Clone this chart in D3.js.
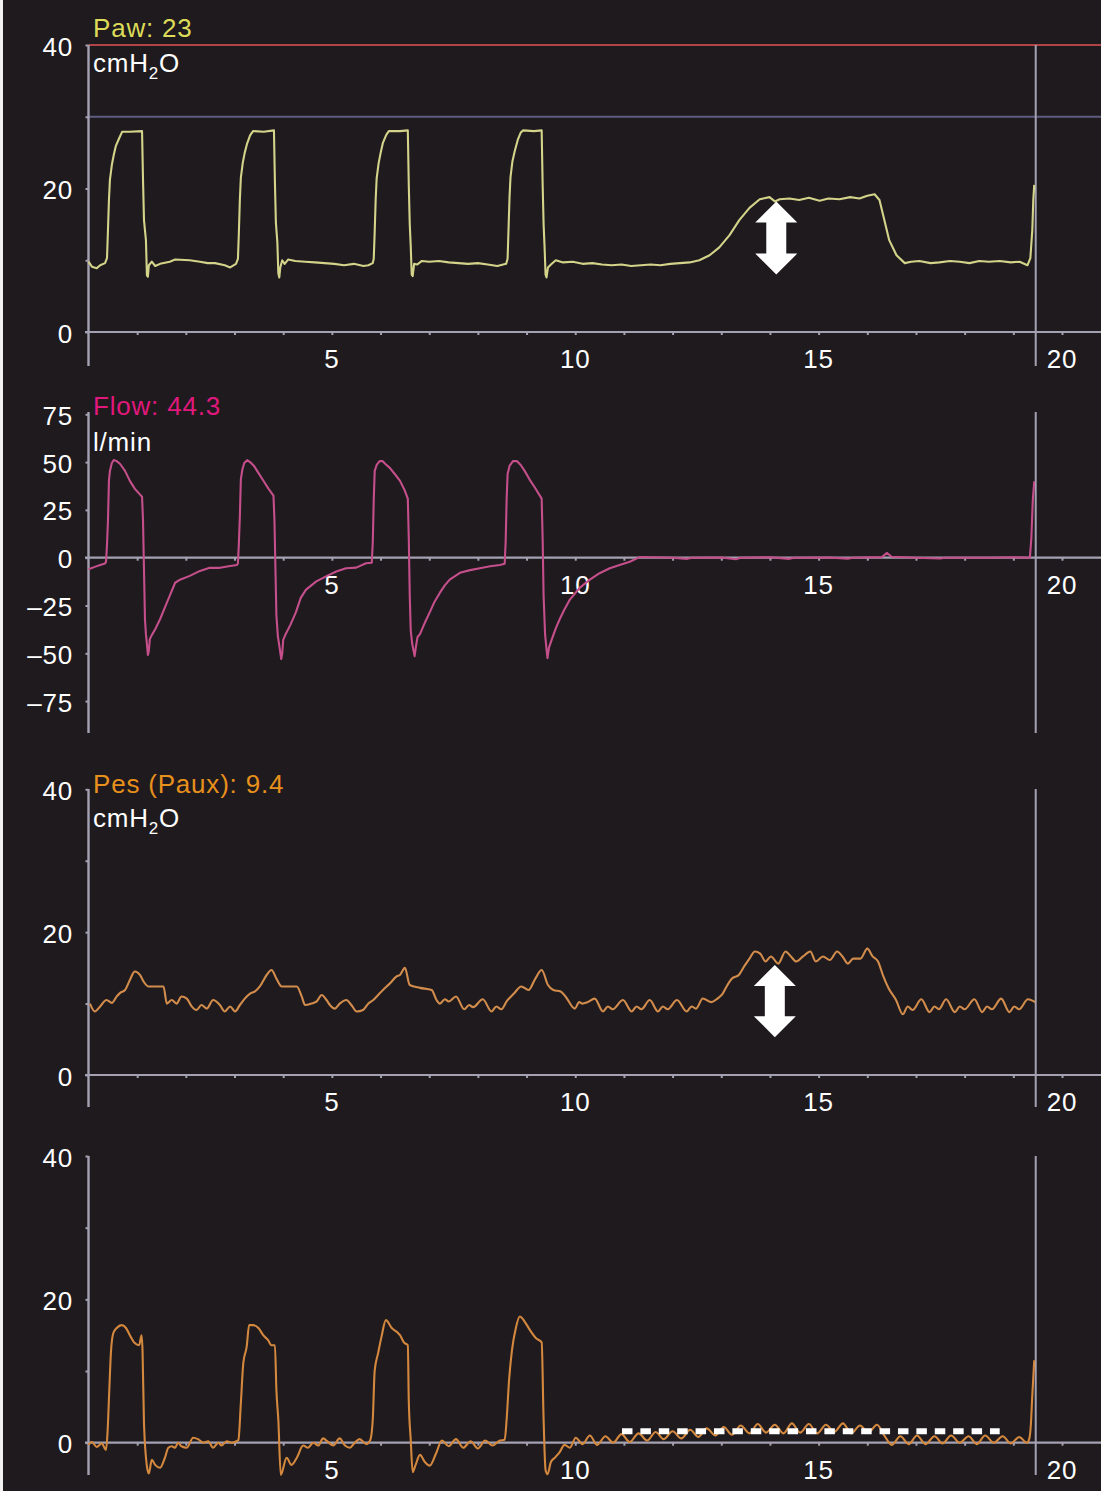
<!DOCTYPE html>
<html><head><meta charset="utf-8">
<script src="https://cdn.jsdelivr.net/npm/d3@7"></script>
<style>html,body{margin:0;padding:0;background:#1e1a1e;} svg{display:block;font-family:"Liberation Sans",Arial,Helvetica,sans-serif;}</style>
</head><body><svg id="c" width="1101" height="1491"></svg>
<script>
// ---------- DATA ----------
const timeTicks = [5, 10, 15, 20];
const cursorT = 19.46;
const pawAlarmHigh = 40;
const pawLimit = 30;
const pawTicks = [0, 20, 40];
const flowTicks = [-75, -50, -25, 0, 25, 50, 75];
const pesTicks = [0, 20, 40];

const pawData = [
[0.00,9.8],[0.07,9.1],[0.17,8.9],[0.24,9.3],[0.34,9.6],[0.38,10.3],[0.40,14.2],[0.42,18.4],[0.44,21.2],[0.48,23.3],[0.52,24.7],[0.56,25.9],[0.63,27.0],[0.69,27.9],[0.85,27.9],[1.10,28.0],[1.12,21.2],[1.14,15.6],[1.18,12.8],[1.20,7.9],[1.22,7.7],[1.24,9.3],[1.30,9.8],[1.37,9.2],[1.47,9.5],[1.67,9.8],[1.78,10.1],[2.08,10.0],[2.29,9.8],[2.45,9.6],[2.60,9.6],[2.80,9.3],[2.91,9.0],[3.03,9.5],
[3.07,10.2],[3.09,14.0],[3.11,18.5],[3.13,21.5],[3.17,23.6],[3.21,25.0],[3.26,26.3],[3.32,27.4],[3.38,28.0],[3.60,27.9],[3.81,28.1],[3.83,20.8],[3.85,15.2],[3.88,12.5],[3.90,8.2],[3.92,7.6],[3.94,9.0],[3.98,10.0],[4.03,9.5],[4.10,10.1],[4.25,9.9],[4.45,9.8],[4.65,9.7],[4.85,9.6],[5.05,9.5],[5.25,9.3],[5.45,9.5],[5.65,9.2],[5.75,9.3],[5.84,9.6],
[5.86,10.2],[5.88,14.0],[5.90,18.5],[5.92,21.4],[5.96,23.5],[6.00,24.9],[6.05,26.4],[6.12,27.5],[6.17,28.0],[6.40,28.0],[6.56,28.1],[6.58,20.5],[6.60,15.0],[6.62,12.0],[6.64,8.0],[6.66,7.8],[6.69,9.5],[6.75,9.4],[6.85,9.9],[7.00,9.8],[7.20,9.9],[7.40,9.7],[7.60,9.6],[7.80,9.5],[8.00,9.6],[8.20,9.4],[8.40,9.2],[8.58,9.5],
[8.61,10.2],[8.63,14.5],[8.65,18.8],[8.67,21.6],[8.71,23.8],[8.76,25.3],[8.82,26.8],[8.88,27.8],[8.93,28.1],[9.15,28.0],[9.31,28.1],[9.33,20.6],[9.35,15.0],[9.37,11.8],[9.39,8.0],[9.41,7.6],[9.44,9.0],[9.50,9.4],[9.60,10.0],[9.75,9.7],[9.95,9.8],[10.15,9.5],[10.35,9.6],[10.55,9.4],[10.75,9.3],[10.95,9.4],[11.15,9.2],[11.35,9.3],[11.55,9.4],[11.75,9.3],[11.95,9.5],[12.15,9.6],[12.35,9.7],[12.55,10.0],[12.76,10.7],[12.96,11.8],[13.17,13.5],[13.37,15.6],[13.58,17.3],[13.79,18.5],[13.99,18.8],[14.10,18.2],[14.20,18.5],[14.40,18.6],[14.60,18.4],[14.80,18.7],[15.02,18.3],[15.20,18.6],[15.43,18.5],[15.65,18.8],[15.84,18.6],[16.00,19.0],[16.15,19.2],[16.25,18.4],[16.35,15.6],[16.45,12.8],[16.60,10.7],[16.77,9.6],[16.90,9.8],[17.07,9.9],[17.30,9.6],[17.48,9.7],[17.70,9.9],[17.90,9.8],[18.10,9.6],[18.30,9.9],[18.50,9.8],[18.72,9.9],[18.95,9.7],[19.13,9.8],[19.29,9.3],[19.35,10.3],[19.39,14.2],[19.41,18.4],[19.43,20.5]
];

const flowData = [
[0.00,-6.0],[0.13,-4.8],[0.24,-3.8],[0.34,-3.0],[0.36,-2.2],[0.38,6.6],[0.40,19.5],[0.42,40.2],[0.44,45.4],[0.48,49.5],[0.52,51.1],[0.58,50.5],[0.65,49.0],[0.75,45.4],[0.85,40.2],[0.95,36.1],[1.06,33.0],[1.10,31.9],[1.12,19.5],[1.14,-6.4],[1.16,-32.2],[1.18,-40.0],[1.20,-45.1],[1.22,-50.9],[1.24,-48.8],[1.26,-42.6],[1.30,-40.5],[1.37,-37.4],[1.47,-32.2],[1.57,-26.0],[1.67,-19.8],[1.78,-13.1],[1.88,-11.5],[2.08,-9.5],[2.29,-6.9],[2.49,-5.3],[2.70,-5.3],[2.91,-4.3],[3.05,-3.8],
[3.07,-3.0],[3.09,8.0],[3.11,22.0],[3.13,41.0],[3.16,46.0],[3.20,49.5],[3.26,51.0],[3.32,50.0],[3.40,48.0],[3.50,44.0],[3.60,40.0],[3.70,36.0],[3.80,32.5],[3.82,20.0],[3.84,-5.0],[3.86,-30.0],[3.89,-41.0],[3.92,-46.0],[3.96,-53.0],[3.98,-50.0],[4.00,-43.0],[4.05,-40.0],[4.15,-35.0],[4.26,-28.6],[4.36,-21.0],[4.47,-16.7],[4.68,-12.4],[4.88,-9.8],[5.09,-7.2],[5.29,-5.5],[5.50,-5.2],[5.70,-2.9],[5.82,-2.6],
[5.84,8.0],[5.86,30.0],[5.88,45.4],[5.92,48.5],[5.98,50.5],[6.04,50.6],[6.10,49.0],[6.19,47.0],[6.30,43.5],[6.40,40.2],[6.50,35.0],[6.56,30.9],[6.58,10.0],[6.60,-20.0],[6.62,-38.0],[6.65,-45.0],[6.70,-51.5],[6.73,-46.0],[6.76,-41.5],[6.81,-40.0],[6.91,-34.0],[7.01,-28.6],[7.11,-23.0],[7.22,-18.3],[7.32,-14.5],[7.42,-11.5],[7.63,-7.9],[7.84,-6.5],[8.04,-5.5],[8.25,-4.5],[8.45,-3.8],[8.55,-3.2],
[8.57,8.0],[8.59,30.0],[8.61,43.8],[8.65,48.0],[8.72,50.5],[8.80,50.6],[8.88,48.5],[8.96,45.4],[9.06,41.0],[9.17,36.7],[9.31,30.9],[9.33,10.0],[9.35,-20.0],[9.38,-40.0],[9.41,-48.0],[9.43,-52.5],[9.46,-47.0],[9.52,-42.6],[9.60,-37.0],[9.68,-32.2],[9.78,-27.0],[9.89,-21.9],[10.09,-15.8],[10.30,-11.5],[10.50,-8.1],[10.71,-5.5],[10.91,-3.8],[11.12,-2.1],[11.32,0.3],
[11.60,0.2],[12.00,0.0],[12.30,-0.6],[12.40,0.0],[13.00,0.1],[13.30,-0.8],[13.40,0.0],[14.00,0.2],[14.40,-0.6],[14.50,0.0],[15.20,0.1],[15.60,-0.5],[15.70,0.0],[16.30,0.3],[16.40,2.5],[16.50,0.5],[17.00,0.0],[17.50,-0.4],[17.60,0.0],[18.50,0.0],[19.00,0.2],[19.34,0.0],[19.37,10.0],[19.40,30.0],[19.43,40.0]
];

const pesData = [
[0.03,10.0],[0.13,8.9],[0.24,9.6],[0.37,10.5],[0.48,10.1],[0.58,11.0],[0.65,11.5],[0.75,11.9],[0.85,13.3],[0.95,14.5],[1.06,14.0],[1.13,13.1],[1.23,12.4],[1.40,12.4],[1.54,12.4],[1.61,10.0],[1.71,10.5],[1.81,10.0],[1.91,11.0],[2.02,10.7],[2.12,9.6],[2.22,9.1],[2.32,9.8],[2.43,9.3],[2.56,10.5],[2.70,9.8],[2.80,8.9],[2.91,9.6],[3.01,8.9],[3.11,9.8],[3.21,10.7],[3.32,11.4],[3.42,11.7],[3.52,12.4],[3.66,14.0],[3.76,14.7],[3.86,13.5],[3.97,12.4],[4.14,12.4],[4.28,12.4],[4.38,11.0],[4.45,9.8],[4.58,10.0],[4.69,10.3],[4.79,11.2],[4.89,10.5],[4.96,9.8],[5.06,9.3],[5.16,10.0],[5.30,10.5],[5.40,9.8],[5.51,8.9],[5.64,9.1],[5.75,10.0],[5.85,10.5],[5.95,11.2],[6.05,11.9],[6.19,12.8],[6.33,13.8],[6.40,14.0],[6.50,15.0],[6.60,12.6],[6.81,12.2],[7.05,11.9],[7.15,10.5],[7.22,10.0],[7.32,10.6],[7.40,10.3],[7.55,11.0],[7.72,9.2],[7.82,9.8],[7.90,9.5],[8.10,10.6],[8.28,8.9],[8.38,9.6],[8.48,9.2],[8.60,10.4],
[8.74,11.4],[8.89,12.4],[9.04,11.9],[9.18,13.5],[9.31,14.7],[9.44,12.6],[9.55,11.9],[9.70,11.7],[9.80,11.0],[9.99,9.3],[10.08,10.2],[10.15,10.0],[10.25,10.2],[10.40,10.7],[10.57,8.9],[10.67,9.6],[10.77,9.2],[10.98,10.5],[11.16,8.9],[11.26,9.6],[11.36,9.2],[11.53,10.5],[11.70,8.9],[11.80,9.6],[11.90,9.2],[12.09,10.5],[12.29,8.9],[12.39,9.6],[12.48,9.3],[12.62,10.7],[12.80,10.2],[12.92,10.7],[13.03,11.4],[13.11,12.4],[13.22,13.5],[13.36,14.0],[13.47,15.2],[13.58,16.3],[13.69,17.3],[13.80,17.0],[13.91,15.9],[14.02,16.6],[14.17,15.6],[14.32,17.3],[14.43,16.6],[14.54,15.9],[14.68,16.6],[14.83,17.3],[14.94,15.9],[15.09,16.6],[15.23,16.1],[15.38,17.3],[15.49,16.6],[15.60,15.6],[15.71,16.3],[15.86,16.3],[16.00,17.7],[16.11,16.6],[16.22,15.9],[16.33,13.8],[16.44,12.1],[16.59,10.5],[16.73,8.5],[16.83,9.6],[16.93,9.1],[17.11,10.6],[17.28,8.8],[17.38,9.6],[17.47,9.2],[17.62,10.6],[17.80,8.8],[17.90,9.6],[18.00,9.2],[18.20,10.6],[18.36,8.8],[18.46,9.6],[18.56,9.2],[18.75,10.7],[18.92,8.8],[19.02,9.6],[19.12,9.2],[19.30,10.6],[19.45,10.2]
];

const pauxData = [
[0.00,-0.3],[0.07,0.1],[0.17,-0.6],[0.27,-0.1],[0.36,-1.0],[0.39,1.3],[0.43,7.8],[0.46,12.5],[0.51,15.3],[0.58,16.0],[0.68,16.4],[0.77,16.0],[0.85,15.0],[0.95,13.9],[1.04,13.6],[1.09,15.0],[1.11,12.9],[1.14,2.7],[1.20,-3.3],[1.24,-4.3],[1.30,-2.4],[1.37,-3.1],[1.47,-3.5],[1.57,-2.1],[1.64,-0.7],[1.71,-0.5],[1.78,-0.7],[1.84,0.0],[1.91,-0.5],[2.02,-0.7],[2.15,0.7],[2.25,0.5],[2.36,0.0],[2.46,0.2],[2.56,-0.7],[2.67,0.0],[2.73,-0.4],[2.84,0.2],[2.94,0.0],[3.04,0.2],
[3.08,0.4],[3.13,5.5],[3.18,11.1],[3.25,13.4],[3.30,16.4],[3.38,16.4],[3.49,16.0],[3.59,15.0],[3.69,14.3],[3.76,13.6],[3.83,13.6],[3.86,7.4],[3.90,3.2],[3.95,-4.5],[4.07,-2.1],[4.17,-3.1],[4.28,-2.1],[4.41,-0.4],[4.51,-0.7],[4.62,0.0],[4.72,-0.4],[4.82,0.6],[4.92,0.1],[5.03,-0.4],[5.16,0.6],[5.27,-0.4],[5.37,-0.7],[5.47,0.0],[5.57,0.5],[5.71,-0.2],[5.79,0.4],
[5.84,3.2],[5.88,10.1],[5.95,12.5],[6.02,14.8],[6.11,17.1],[6.23,16.0],[6.36,15.3],[6.40,15.0],[6.48,14.0],[6.56,13.6],[6.58,5.9],[6.62,0.4],[6.66,-4.1],[6.72,-3.1],[6.81,-1.7],[6.91,-2.7],[7.01,-3.2],[7.14,-1.5],[7.26,0.3],[7.40,-0.5],[7.55,0.5],[7.70,-0.7],[7.85,0.2],[8.00,-0.8],[8.15,0.3],[8.30,-0.4],[8.45,0.3],[8.55,0.4],
[8.59,3.2],[8.64,8.7],[8.70,12.9],[8.78,16.0],[8.86,17.6],[8.97,16.8],[9.07,15.7],[9.19,14.6],[9.31,14.0],[9.35,3.2],[9.39,-3.8],[9.43,-4.4],[9.50,-2.7],[9.58,-2.1],[9.68,-1.3],[9.78,-0.3],[9.89,-0.7],[10.01,0.7],[10.15,-0.2],[10.30,1.0],[10.45,-0.3],[10.62,0.9],[10.78,0.0],[10.95,1.2],[11.12,0.1],[11.30,1.3],[11.48,0.3],[11.65,1.5],[11.82,0.5],[12.00,1.6],[12.18,0.6],[12.36,1.8],[12.53,0.8],[12.70,2.0],[12.88,1.0],[13.05,2.2],[13.22,1.1],[13.40,2.4],[13.58,1.3],[13.75,2.6],[13.92,1.4],[14.10,2.5],[14.28,1.3],[14.45,2.7],[14.62,1.4],[14.80,2.6],[14.97,1.3],[15.15,2.5],[15.32,1.5],[15.50,2.7],[15.67,1.3],[15.85,2.4],[16.02,1.4],[16.20,2.5],[16.35,1.0],[16.50,-0.3],[16.68,0.9],[16.85,-0.2],[17.02,1.0],[17.20,-0.2],[17.38,0.9],[17.55,-0.1],[17.72,1.0],[17.90,0.0],[18.08,0.9],[18.25,-0.2],[18.42,1.0],[18.60,0.0],[18.78,0.9],[18.95,-0.1],[19.12,0.8],[19.28,0.0],[19.33,0.6],[19.36,2.5],[19.39,6.6],[19.43,11.5]
];

// annotations (data units)
const pawArrow = {t: 14.13, from: 8.0, to: 18.2};
const pesArrow = {t: 14.10, from: 5.3, to: 15.4};
const pauxDash = {from: 10.96, to: 18.72, v: 1.6};

// ---------- DRAW ----------
const W = 1101, H = 1491;
const BG = "#1e1a1e", AX = "#a4a2b2", TXT = "#ffffff";
const FS = 26, LS = 0.8;
const svg = d3.select("#c");
svg.append("rect").attr("width", W).attr("height", H).attr("fill", BG);
svg.append("rect").attr("width", 3).attr("height", H).attr("fill", "#f2f2f2");

const x = d3.scaleLinear().domain([0, 20]).range([88.5, 1062]);
const fmt = v => v < 0 ? "\u2013" + Math.abs(v) : String(v);

const panels = [
  {data: pawData, domain: [0, 40], range: [332, 45], ticks: pawTicks, minor: [10, 30], top: 45, bottom: 366,
   color: "#d3d38a", curve: d3.curveLinear, title: "Paw: 23", titleColor: "#dcdc58", titleY: 36.5, unit: "cmH2O", unitY: 71.5},
  {data: flowData, domain: [-75, 75], range: [701.1, 414.3], ticks: flowTicks, minor: [], top: 412, bottom: 733,
   color: "#c54f8b", curve: d3.curveLinear, title: "Flow: 44.3", titleColor: "#e0187c", titleY: 415, unit: "l/min", unitY: 450.5},
  {data: pesData, domain: [0, 40], range: [1075, 789.3], ticks: pesTicks, minor: [10, 30], top: 789, bottom: 1107,
   color: "#d28c4c", curve: d3.curveMonotoneX, title: "Pes (Paux): 9.4", titleColor: "#e8901c", titleY: 793.3, unit: "cmH2O", unitY: 827},
  {data: pauxData, domain: [0, 40], range: [1442.7, 1156], ticks: pesTicks, minor: [10, 30], top: 1156, bottom: 1475,
   color: "#d4883e", curve: d3.curveMonotoneX, title: null}
];

panels.forEach((p, i) => {
  const y = d3.scaleLinear().domain(p.domain).range(p.range);
  p.y = y;
  const g = svg.append("g");

  if (i === 0) {
    g.append("line").attr("x1", x(0)).attr("x2", W).attr("y1", y(pawAlarmHigh)).attr("y2", y(pawAlarmHigh))
      .attr("stroke", "#b04446").attr("stroke-width", 2);
    g.append("line").attr("x1", x(0)).attr("x2", W).attr("y1", y(pawLimit)).attr("y2", y(pawLimit))
      .attr("stroke", "#5e5c80").attr("stroke-width", 1.8);
  }

  g.append("line").attr("x1", 85).attr("x2", W).attr("y1", y(0)).attr("y2", y(0))
    .attr("stroke", AX).attr("stroke-width", 2.2);
  const xt = g.append("g").attr("transform", `translate(0,${y(0)})`)
    .call(d3.axisBottom(x).tickValues(d3.range(1, 21)).tickSize(3).tickFormat(""));
  xt.select(".domain").remove();
  xt.selectAll("line").attr("stroke", AX).attr("stroke-width", 2);

  g.append("line").attr("x1", x(0)).attr("x2", x(0)).attr("y1", p.top).attr("y2", p.bottom)
    .attr("stroke", AX).attr("stroke-width", 2.4);
  const yt = g.append("g").attr("transform", `translate(${x(0)},0)`)
    .call(d3.axisLeft(y).tickValues(p.ticks.concat(p.minor)).tickSize(3).tickFormat(""));
  yt.select(".domain").remove();
  yt.selectAll("line").attr("stroke", AX).attr("stroke-width", 2);

  g.append("line").attr("x1", x(cursorT)).attr("x2", x(cursorT)).attr("y1", p.top).attr("y2", p.bottom)
    .attr("stroke", AX).attr("stroke-width", 2);

  g.selectAll("text.yl").data(p.ticks).join("text").attr("class", "yl")
    .attr("x", 73).attr("y", d => y(d) + 10.5).attr("text-anchor", "end")
    .attr("fill", TXT).attr("font-size", FS).attr("letter-spacing", LS).text(fmt);
  g.selectAll("text.xl").data(timeTicks).join("text").attr("class", "xl")
    .attr("x", d => x(d)).attr("y", y(0) + 36).attr("text-anchor", "middle")
    .attr("fill", TXT).attr("font-size", FS).attr("letter-spacing", LS).text(d => d);

  g.append("path").datum(p.data)
    .attr("d", d3.line().curve(p.curve).x(d => x(d[0])).y(d => y(d[1])))
    .attr("fill", "none").attr("stroke", p.color).attr("stroke-width", 2.1).attr("stroke-linejoin", "round");

  if (p.title) {
    g.append("text").attr("x", 93).attr("y", p.titleY).attr("fill", p.titleColor)
      .attr("font-size", FS).attr("letter-spacing", LS).text(p.title);
    const u = g.append("text").attr("x", 93).attr("y", p.unitY).attr("fill", TXT)
      .attr("font-size", FS).attr("letter-spacing", LS);
    if (p.unit === "cmH2O") {
      u.append("tspan").text("cmH");
      u.append("tspan").attr("dy", 7).attr("font-size", 17).text("2");
      u.append("tspan").attr("dy", -7).text("O");
    } else u.text(p.unit);
  }
});

function arrow(cx, yTop, yBot) {
  const sh = 10, hh = 21, hl = 21;
  return `M${cx},${yTop} L${cx + hh},${yTop + hl} L${cx + sh},${yTop + hl} L${cx + sh},${yBot - hl} L${cx + hh},${yBot - hl}` +
         ` L${cx},${yBot} L${cx - hh},${yBot - hl} L${cx - sh},${yBot - hl} L${cx - sh},${yTop + hl} L${cx - hh},${yTop + hl} Z`;
}
svg.append("path").attr("d", arrow(x(pawArrow.t), panels[0].y(pawArrow.to), panels[0].y(pawArrow.from))).attr("fill", "#ffffff");
svg.append("path").attr("d", arrow(x(pesArrow.t), panels[2].y(pesArrow.to), panels[2].y(pesArrow.from))).attr("fill", "#ffffff");

svg.append("line").attr("x1", x(pauxDash.from)).attr("x2", x(pauxDash.to))
  .attr("y1", panels[3].y(pauxDash.v)).attr("y2", panels[3].y(pauxDash.v))
  .attr("stroke", "#ffffff").attr("stroke-width", 6).attr("stroke-dasharray", "10.5,7.9");
</script></body></html>
